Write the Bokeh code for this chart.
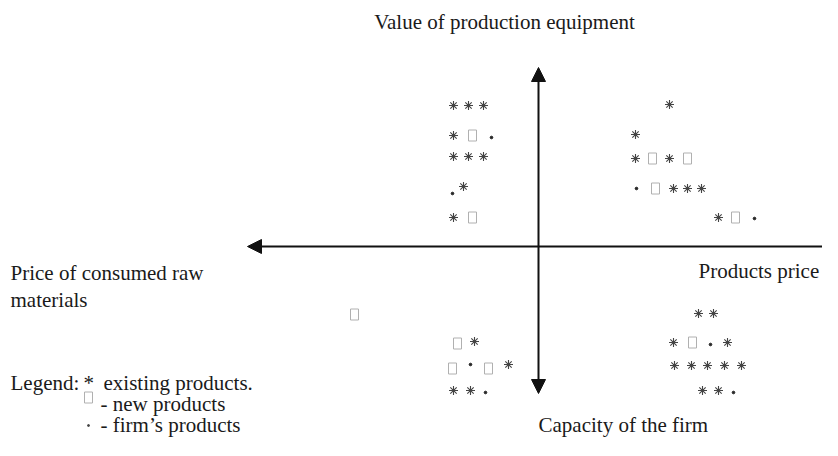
from bokeh.plotting import figure
from bokeh.models import Range1d, Arrow, NormalHead
from bokeh.core.properties import value
from bokeh.embed import file_html
from bokeh.resources import INLINE

# ---- data (positions relative to the axis crossing, y up) ----
existing_x = [-85, -70, -55, -85, -85, -70, -55, -75, -85,
              131, 97, 97, 131, 135, 149, 163, 180,
              -64, -30, -85, -68,
              160, 175, 135, 189, 136, 153, 169, 186, 203, 164, 180]
existing_y = [141, 141, 141, 111, 90, 90, 90, 60, 29,
              142, 112, 88, 88, 58, 58, 58, 29,
              -95, -118, -144, -144,
              -67, -67, -96, -96, -119, -119, -119, -119, -119, -144, -144]

new_x = [-66, -66, 114, 149, 117, 197, -184, -81, -86, -50, 154]
new_y = [111, 29, 88, 88, 58, 29, -68, -97, -122, -122, -96]

firm_x = [-47, -86, 98, 216, -68, -53, 172, 195]
firm_y = [109, 53, 58, 28, -118, -146, -98, -146]

axis_titles = ["Value of production equipment", "Products price",
               "Capacity of the firm", "Price of consumed raw", "materials"]
legend_labels = ["Legend:", "*", "existing products.", "- new products", "- firm\u2019s products"]

# ---- layout ----
OX, OY = 538, 246          # axis crossing in picture pixels
W, H = 822, 440
def px(x): return x - OX
def py(y): return OY - y

p = figure(width=W, height=H, output_backend="svg", toolbar_location=None,
           x_range=Range1d(px(0), px(W)), y_range=Range1d(py(H), py(0)),
           min_border=0, outline_line_color=None, background_fill_color="white",
           border_fill_color="white")
p.axis.visible = False
p.grid.visible = False

FONT = value("Liberation Serif")
TXT = "#1a1a1a"
FS = "21px"

def head():
    return NormalHead(size=14, fill_color="#111", line_color="#111")

# axes with arrow heads
p.add_layout(Arrow(x_start=px(247), y_start=0, x_end=px(843), y_end=0,
                   start=head(), end=head(), line_width=2, line_color="#111"))
p.add_layout(Arrow(x_start=0, y_start=py(67), x_end=0, y_end=py(393),
                   start=head(), end=head(), line_width=2, line_color="#111"))

# marks
p.scatter(existing_x, existing_y, marker="asterisk", size=9, line_color="#444", line_width=1.1)
p.rect(new_x, new_y, width=8, height=11, width_units="screen", height_units="screen",
       fill_color=None, line_color="#b0b0b0", line_width=1)
p.scatter(firm_x, firm_y, marker="circle", size=2.6, fill_color="#222", line_color="#222")

# axis titles
tx = [px(504), px(698), px(538), px(10), px(10)]
ty = [py(21), py(270), py(424), py(272), py(299)]
align = ["center", "left", "left", "left", "left"]
p.text(x=tx, y=ty, text=axis_titles, text_align=align, text_baseline="alphabetic",
       text_font=FONT, text_font_size=FS, text_color=TXT)

# legend
lx = [px(10), px(83), px(103), px(100), px(100)]
ly = [py(382), py(382), py(382), py(403), py(424)]
p.text(x=lx, y=ly, text=legend_labels, text_baseline="alphabetic",
       text_font=FONT, text_font_size=FS, text_color=TXT)
p.rect([px(88)], [py(397)], width=8, height=11, width_units="screen", height_units="screen",
       fill_color=None, line_color="#b0b0b0", line_width=1)
p.scatter([px(88)], [py(425)], marker="circle", size=2, fill_color="#444", line_color="#444")

open("out.html", "w").write(file_html(p, INLINE))
